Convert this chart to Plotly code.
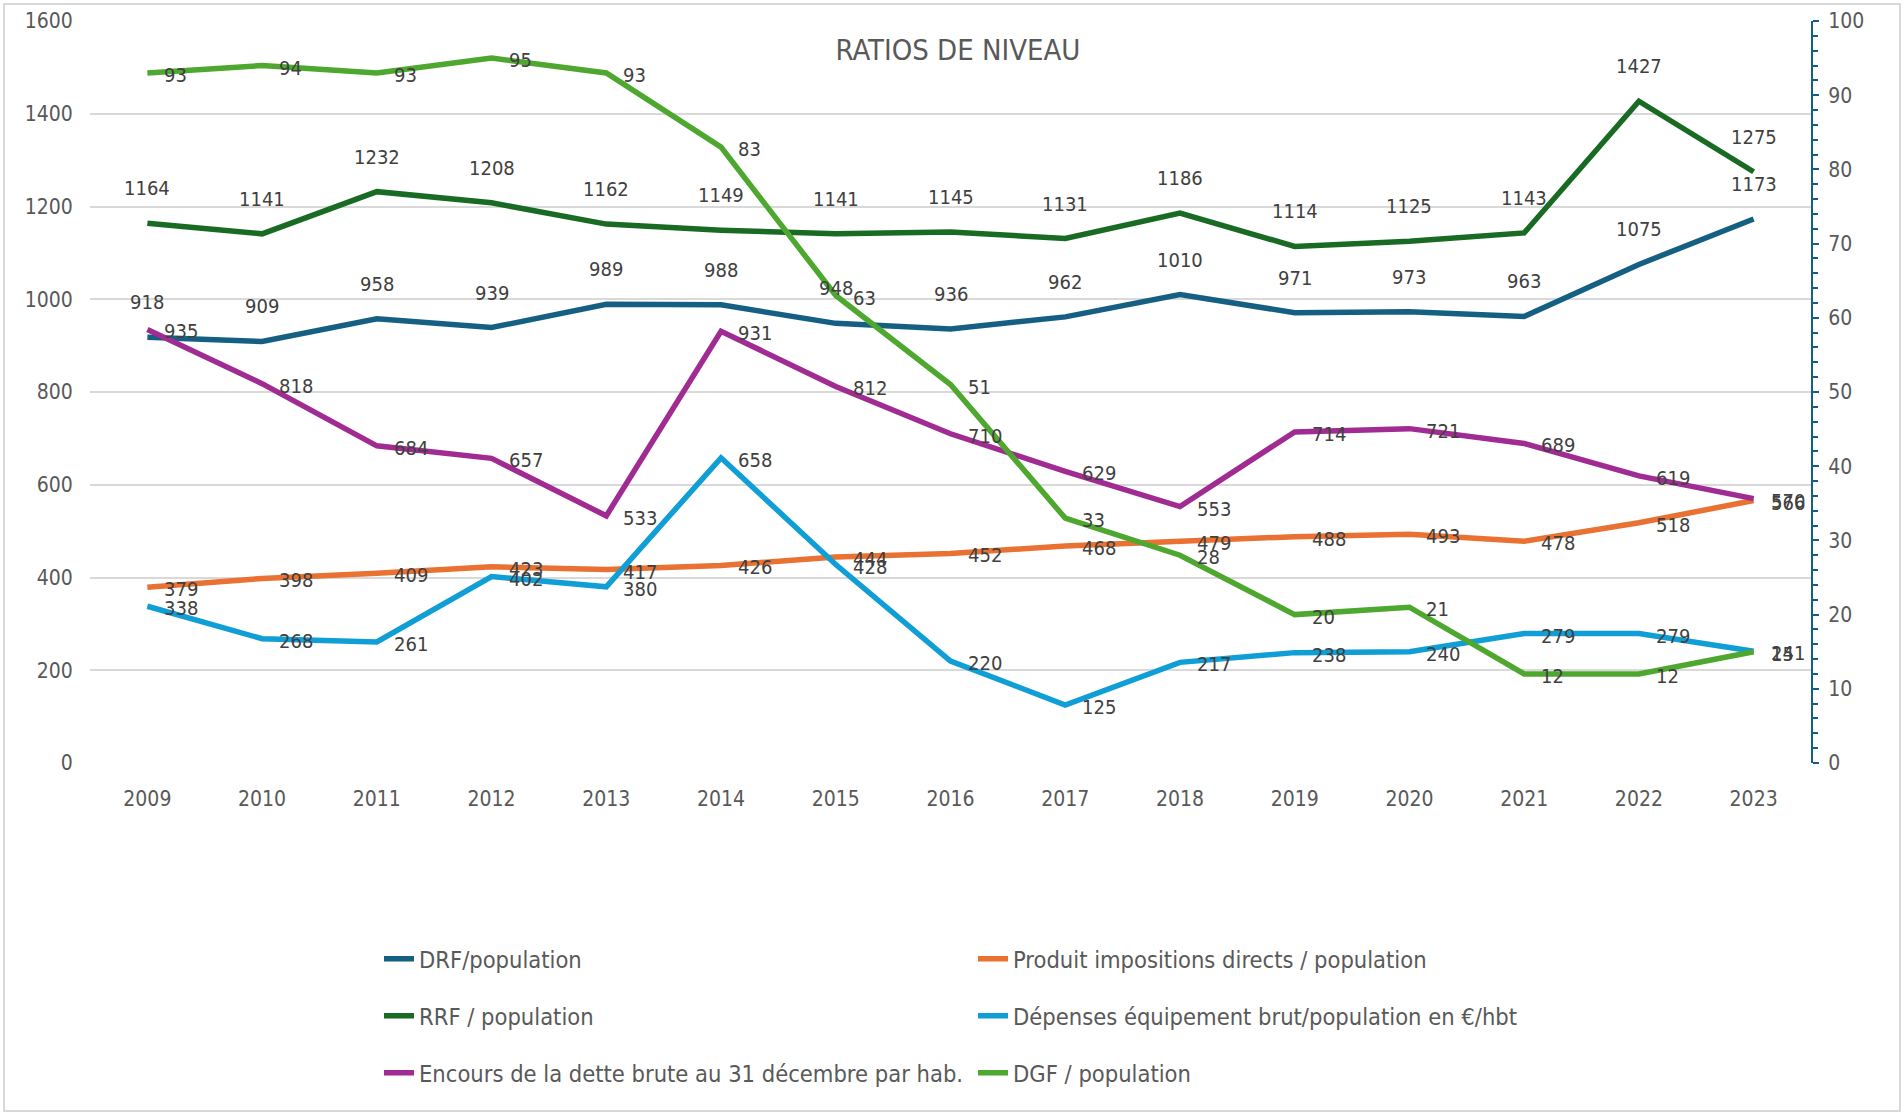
import plotly.graph_objects as go

years = ["2009", "2010", "2011", "2012", "2013", "2014", "2015", "2016",
         "2017", "2018", "2019", "2020", "2021", "2022", "2023"]

drf = [918, 909, 958, 939, 989, 988, 948, 936, 962, 1010, 971, 973, 963, 1075, 1173]
produit = [379, 398, 409, 423, 417, 426, 444, 452, 468, 479, 488, 493, 478, 518, 566]
rrf = [1164, 1141, 1232, 1208, 1162, 1149, 1141, 1145, 1131, 1186, 1114, 1125, 1143, 1427, 1275]
depenses = [338, 268, 261, 402, 380, 658, 428, 220, 125, 217, 238, 240, 279, 279, 241]
encours = [935, 818, 684, 657, 533, 931, 812, 710, 629, 553, 714, 721, 689, 619, 570]
dgf = [93, 94, 93, 95, 93, 83, 63, 51, 33, 28, 20, 21, 12, 12, 15]

names = {
    "drf": "DRF/population",
    "produit": "Produit impositions directs / population",
    "rrf": "RRF / population",
    "depenses": "Dépenses équipement brut/population en €/hbt",
    "encours": "Encours de la dette brute au 31 décembre par hab.",
    "dgf": "DGF / population",
}

left_ticks = [0, 200, 400, 600, 800, 1000, 1200, 1400, 1600]
right_ticks = [0, 10, 20, 30, 40, 50, 60, 70, 80, 90, 100]

FONT = "DejaVu Sans Condensed, Liberation Sans Narrow, Arial Narrow, sans-serif"
LABEL_COLOR = "#404040"
TICK_COLOR = "#595959"

W, H = 1904, 1114
ML, MR, MT, MB = 90, 93, 21, 351
PW = W - ML - MR
PH = H - MT - MB


def px_to_paper_x(px):
    return (px - ML) / PW


def px_to_paper_y(py):
    return (H - MB - py) / PH


# legend slot for each series: (legend id, left px, row-centre px)
legend_slots = {
    "drf": ("legend", 379, 959),
    "produit": ("legend2", 973, 959),
    "rrf": ("legend3", 379, 1016),
    "depenses": ("legend4", 973, 1016),
    "encours": ("legend5", 379, 1073),
    "dgf": ("legend6", 973, 1073),
}

series = [
    ("drf", drf, "#156082", "y", "above"),
    ("produit", produit, "#E97132", "y", "right"),
    ("rrf", rrf, "#196B24", "y", "above"),
    ("depenses", depenses, "#0F9ED5", "y", "right"),
    ("encours", encours, "#A02B93", "y", "right"),
    ("dgf", dgf, "#4EA72E", "y2", "right"),
]

fig = go.Figure()
annotations = []
for key, vals, color, yax, pos in series:
    fig.add_trace(go.Scatter(
        x=years, y=vals, name=names[key], mode="lines",
        line=dict(color=color, width=5.5),
        yaxis=yax, legend=legend_slots[key][0], hoverinfo="x+y+name",
    ))
    for i, yv in enumerate(vals):
        if pos == "above":
            annotations.append(dict(
                x=i, y=yv, xref="x", yref=yax, text=str(yv), showarrow=False,
                xanchor="center", yanchor="middle", yshift=35,
                font=dict(family=FONT, size=20, color=LABEL_COLOR)))
        else:
            annotations.append(dict(
                x=i, y=yv, xref="x", yref=yax, text=str(yv), showarrow=False,
                xanchor="left", yanchor="middle", xshift=15, yshift=-2,
                font=dict(family=FONT, size=20, color=LABEL_COLOR)))

shapes = [dict(
    type="rect", xref="paper", yref="paper",
    x0=px_to_paper_x(4), x1=px_to_paper_x(1900),
    y0=px_to_paper_y(1111), y1=px_to_paper_y(4),
    line=dict(color="#D9D9D9", width=2), fillcolor="rgba(0,0,0,0)", layer="below")]

legends = {}
for key, (lid, xpx, ypx) in legend_slots.items():
    legends[lid] = dict(
        orientation="h", xanchor="left", yanchor="middle",
        x=px_to_paper_x(xpx), y=px_to_paper_y(ypx),
        font=dict(family=FONT, size=23.5, color=TICK_COLOR),
        bgcolor="rgba(0,0,0,0)", itemwidth=30,
    )

fig.update_layout(
    width=W, height=H,
    margin=dict(l=ML, r=MR, t=MT, b=MB, pad=0, autoexpand=False),
    paper_bgcolor="white", plot_bgcolor="white",
    title=dict(text="RATIOS DE NIVEAU", x=958 / W, y=1 - 50 / H,
               xanchor="center", yanchor="middle",
               font=dict(family=FONT, size=29, color=TICK_COLOR)),
    xaxis=dict(type="category", range=[-0.5, 14.5], showgrid=False,
               showline=False, zeroline=False,
               ticks="outside", ticklen=17, tickcolor="rgba(0,0,0,0)",
               tickfont=dict(family=FONT, size=21, color=TICK_COLOR)),
    yaxis=dict(range=[0, 1600], tickvals=left_ticks, showgrid=True,
               gridcolor="#D9D9D9", gridwidth=1.8, zeroline=False, showline=False,
               ticks="outside", ticklen=12, tickcolor="rgba(0,0,0,0)",
               tickfont=dict(family=FONT, size=21, color=TICK_COLOR)),
    yaxis2=dict(range=[0, 100], tickvals=right_ticks, overlaying="y", side="right",
                showgrid=False, zeroline=False, showline=True,
                linecolor="#156082", linewidth=2,
                ticks="outside", ticklen=6, tickwidth=2, tickcolor="#156082",
                ticklabelstandoff=5,
                minor=dict(dtick=2, ticks="outside", ticklen=5, tickwidth=2,
                           tickcolor="#156082", showgrid=False),
                tickfont=dict(family=FONT, size=21, color=TICK_COLOR)),
    annotations=annotations,
    shapes=shapes,
    showlegend=True,
    **legends,
)

fig.write_html("out.html", config={"displayModeBar": False},
               post_script="document.body.style.margin='0';")
